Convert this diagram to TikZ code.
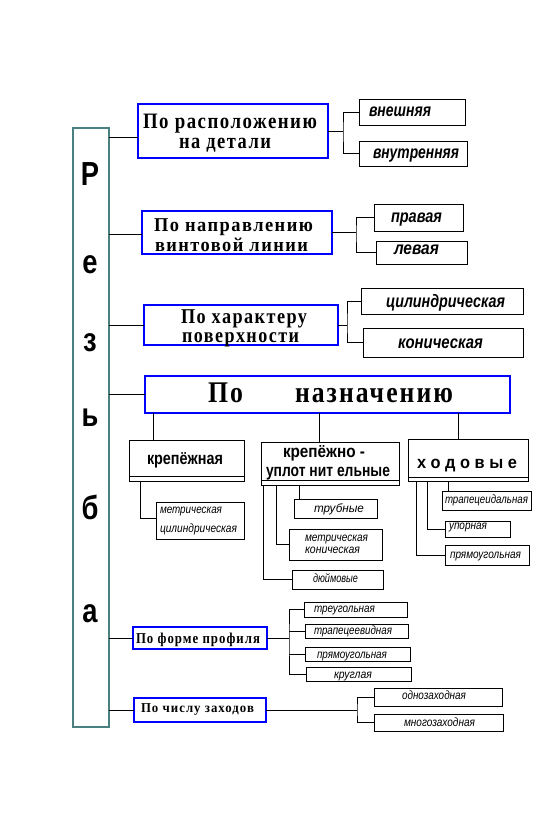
\documentclass[tikz,border=0pt]{standalone}
\usepackage{fontspec}
\setmainfont{Liberation Serif}
\newfontfamily\catf{Liberation Serif}[LetterSpace=8]
\newfontfamily\sanf{Liberation Sans}
\newlength\pxu \setlength\pxu{0.75pt}
\newcommand\fw[2]{\resizebox{#1\pxu}{\height}{#2}}
\newcommand\cf[1]{\catf\bfseries\fontsize{#1}{#1}\selectfont}
\newcommand\sbo{\sanf\bfseries\fontsize{13}{13}\selectfont}
\newcommand\sbit{\sanf\bfseries\itshape\fontsize{13.5}{13.5}\selectfont}
\newcommand\sit{\sanf\itshape\fontsize{9}{9}\selectfont}
\newcommand\bletter[1]{\scalebox{0.82}[1]{#1}}
\definecolor{barc}{RGB}{74,128,128}
\definecolor{catblue}{RGB}{0,0,255}
\begin{document}
\begin{tikzpicture}[x=0.75pt,y=-0.75pt,
  bx/.style n args={2}{minimum width=#1\pxu, minimum height=#2\pxu, inner sep=0pt, outer sep=0pt},
  catbox/.style={draw=catblue, line width=0.9pt},
  sbox/.style={draw=black, line width=0.75pt},
  ln/.style={draw=black, line width=0.75pt},
  txt/.style={anchor=base west, inner sep=0pt, outer sep=0pt},
  letter/.style={anchor=base, inner sep=0pt, font=\sanf\bfseries\fontsize{25}{25}\selectfont}]
\useasboundingbox (0,0) rectangle (553,817);
\fill[white] (0,0) rectangle (553,817);

% vertical bar
\node[draw=barc, line width=2pt, bx={36}{599}] (bar) at (91,427.5) {};
\node[letter] (l1) at (90,185) {\bletter{Р}};
\node[letter] (l2) at (90,273) {\bletter{е}};
\node[letter] (l3) at (90,351) {\bletter{з}};
\node[letter] (l4) at (90,426) {\bletter{ь}};
\node[letter] (l5) at (90,519) {\bletter{б}};
\node[letter] (l6) at (90,622) {\bletter{а}};

% category boxes
\node[catbox, bx={190}{54}] (b1) at (233,131) {};
\node[catbox, bx={190}{43}] (b2) at (237,232.5) {};
\node[catbox, bx={194}{40}] (b3) at (241,325) {};
\node[catbox, bx={365}{37}] (b4) at (327.5,394.5) {};
\node[catbox, bx={134}{22}] (b5) at (200,638) {};
\node[catbox, bx={132}{24}] (b6) at (200,710) {};

\node[txt] (tb1a) at (143,128) {\cf{16.5}\fw{174}{По  расположению}};
\node[txt] (tb1b) at (179,148) {\cf{16.5}\fw{92}{на детали}};
\node[txt] (tb2a) at (154,231) {\cf{14.7}\fw{159}{По направлению}};
\node[txt] (tb2b) at (155,251) {\cf{14.7}\fw{153}{винтовой линии}};
\node[txt] (tb3a) at (181,323) {\cf{15.8}\fw{126}{По характеру}};
\node[txt] (tb3b) at (182,342) {\cf{15.8}\fw{117}{поверхности}};
\node[txt] (tb4a) at (208,402) {\cf{22.5}\fw{35}{По}};
\node[txt] (tb4b) at (295,402) {\cf{22.5}\fw{158}{назначению}};
\node[txt] (tb5) at (136,643) {\cf{11.3}\fw{124}{По форме профиля}};
\node[txt] (tb6) at (141,712) {\cf{10.2}\fw{113}{По числу заходов}};

% bar connectors
\coordinate (k1) at (0,137);
\coordinate (k2) at (0,234);
\coordinate (k3) at (0,325);
\coordinate (k4) at (0,394);
\coordinate (k5) at (0,638);
\coordinate (k6) at (0,710);
\draw[ln] (bar.east |- k1) -- (b1.west |- k1);
\draw[ln] (bar.east |- k2) -- (b2.west |- k2);
\draw[ln] (bar.east |- k3) -- (b3.west |- k3);
\draw[ln] (bar.east |- k4) -- (b4.west |- k4);
\draw[ln] (bar.east |- k5) -- (b5.west |- k5);
\draw[ln] (bar.east |- k6) -- (b6.west |- k6);

% top small boxes
\node[sbox, bx={106}{26}] (vn) at (412,112) {};
\node[sbox, bx={108}{25}] (vt) at (413,153.5) {};
\node[sbox, bx={89}{27}] (pr) at (418.5,217.5) {};
\node[sbox, bx={91}{23}] (lv) at (421.5,252.5) {};
\node[sbox, bx={162}{26}] (cy) at (442,301) {};
\node[sbox, bx={160}{29}] (ko) at (443,342.5) {};
\node[txt] (tvn) at (369,116) {\sbit\fw{62}{внешняя}};
\node[txt] (tvt) at (373,158) {\sbit\fw{86}{внутренняя}};
\node[txt] (tpr) at (391,222) {\sbit\fw{51}{правая}};
\node[txt] (tlv) at (394,254) {\sbit\fw{45}{левая}};
\node[txt] (tcy) at (386,307) {\sbit\fw{119}{цилиндрическая}};
\node[txt] (tko) at (398,348) {\sbit\fw{85}{коническая}};

\coordinate (j1) at (343,131);
\coordinate (j2) at (356,232.5);
\coordinate (j3) at (347,325);
\draw[ln] (b1.east) -- (j1);
\draw[ln] (vn.west) -| (j1) |- (vt.west);
\draw[ln] (b2.east) -- (j2);
\draw[ln] (pr.west) -| (j2) |- (lv.west);
\draw[ln] (b3.east) -- (j3);
\draw[ln] (cy.west) -| (j3) |- (ko.west);

% purpose sub-boxes
\node[sbox, bx={115}{41}] (kr) at (186.5,460.5) {};
\node[sbox, bx={138}{43}] (ku) at (330,463.5) {};
\node[sbox, bx={120}{42}] (xo) at (468,460) {};
\draw[ln] ([yshift=3.75pt]kr.south west) -- ([yshift=3.75pt,xshift=0.75pt]kr.south east);
\draw[ln] ([yshift=3.75pt]ku.south west) -- ([yshift=3.75pt,xshift=0.75pt]ku.south east);
\draw[ln] ([yshift=3pt]xo.south west) -- ([yshift=3pt,xshift=0.75pt]xo.south east);
\node[txt] (tkr) at (147,464) {\sbo\fw{76}{крепёжная}};
\node[txt] (tku1) at (283,457) {\sbo\fw{82}{крепёжно -}};
\node[txt] (tku2) at (266,476) {\sbo\fw{124}{уплот нит ельные}};
\node[txt] (txo) at (417,468) {\sbo\fw{100}{х о д о в ы е}};

\coordinate (d1) at (153,0);
\coordinate (d2) at (319,0);
\coordinate (d3) at (458,0);
\draw[ln] (b4.south -| d1) -- (kr.north -| d1);
\draw[ln] (b4.south -| d2) -- (ku.north -| d2);
\draw[ln] (b4.south -| d3) -- (xo.north -| d3);

% leaves under крепёжная
\node[sbox, bx={88}{37}] (mc) at (200,520.5) {};
\node[txt] (tmc1) at (160,513) {\sit\fw{62}{метрическая}};
\node[txt] (tmc2) at (160,532) {\sit\fw{77}{цилиндрическая}};
\coordinate (e1) at (140,518);
\draw[ln] (kr.south -| e1) |- (mc.west |- e1);

% leaves under крепёжно-уплотнительные
\node[sbox, bx={83}{19}] (tr) at (335.5,508.5) {};
\node[sbox, bx={93}{31}] (mk) at (335.5,544.5) {};
\node[sbox, bx={91}{19}] (dm) at (337.5,579.5) {};
\node[txt] (ttr) at (314,512) {\sit\fw{50}{трубные}};
\node[txt] (tmk1) at (305,541) {\sit\fw{63}{метрическая}};
\node[txt] (tmk2) at (305,553) {\sit\fw{55}{коническая}};
\node[txt] (tdm) at (313,582) {\sit\fw{45}{дюймовые}};
\coordinate (f1) at (263,0);
\coordinate (f2) at (276,0);
\coordinate (f3) at (299,0);
\draw[ln] (ku.south -| f3) -- (tr.north -| f3);
\draw[ln] (ku.south -| f2) |- (mk.west);
\draw[ln] (ku.south -| f1) |- (dm.west);

% leaves under ходовые
\node[sbox, bx={89}{19}] (tp) at (486.5,500.5) {};
\node[sbox, bx={65}{16}] (up) at (477.5,529) {};
\node[sbox, bx={84}{20}] (pm) at (487,555) {};
\node[txt] (ttp) at (445,503) {\sit\fw{83}{трапецеидальная}};
\node[txt] (tup) at (449,529) {\sit\fw{38}{упорная}};
\node[txt] (tpm) at (450,558) {\sit\fw{71}{прямоугольная}};
\coordinate (g1) at (416,0);
\coordinate (g2) at (427,0);
\coordinate (g3) at (448,0);
\draw[ln] (xo.south -| g3) -- (tp.north -| g3);
\draw[ln] (xo.south -| g2) |- (up.west);
\draw[ln] (xo.south -| g1) |- (pm.west);

% profile
\node[sbox, bx={103}{15}] (t1) at (355.5,609.5) {};
\node[sbox, bx={103}{14}] (t2) at (356.5,631) {};
\node[sbox, bx={105}{14}] (t3) at (357.5,654) {};
\node[sbox, bx={105}{14}] (t4) at (358.5,674) {};
\node[txt] (tt1) at (314,612) {\sit\fw{61}{треугольная}};
\node[txt] (tt2) at (314,634) {\sit\fw{78}{трапецеевидная}};
\node[txt] (tt3) at (317,658) {\sit\fw{70}{прямоугольная}};
\node[txt] (tt4) at (334,678) {\sit\fw{38}{круглая}};
\coordinate (j5) at (289,638);
\draw[ln] (b5.east) -- (j5);
\draw[ln] (t1.west) -| (j5) |- (t4.west);
\draw[ln] (t2.west) -- (t2.west -| j5);
\draw[ln] (t3.west) -- (t3.west -| j5);

% number of starts
\node[sbox, bx={128}{18}] (o1) at (438,697) {};
\node[sbox, bx={129}{17}] (o2) at (438.5,722.5) {};
\node[txt] (to1) at (402,699) {\sit\fw{64}{однозаходная}};
\node[txt] (to2) at (404,726) {\sit\fw{71}{многозаходная}};
\coordinate (j6) at (357,710);
\draw[ln] (b6.east) -- (j6);
\draw[ln] (o1.west) -| (j6) |- (o2.west);
\end{tikzpicture}
\end{document}
